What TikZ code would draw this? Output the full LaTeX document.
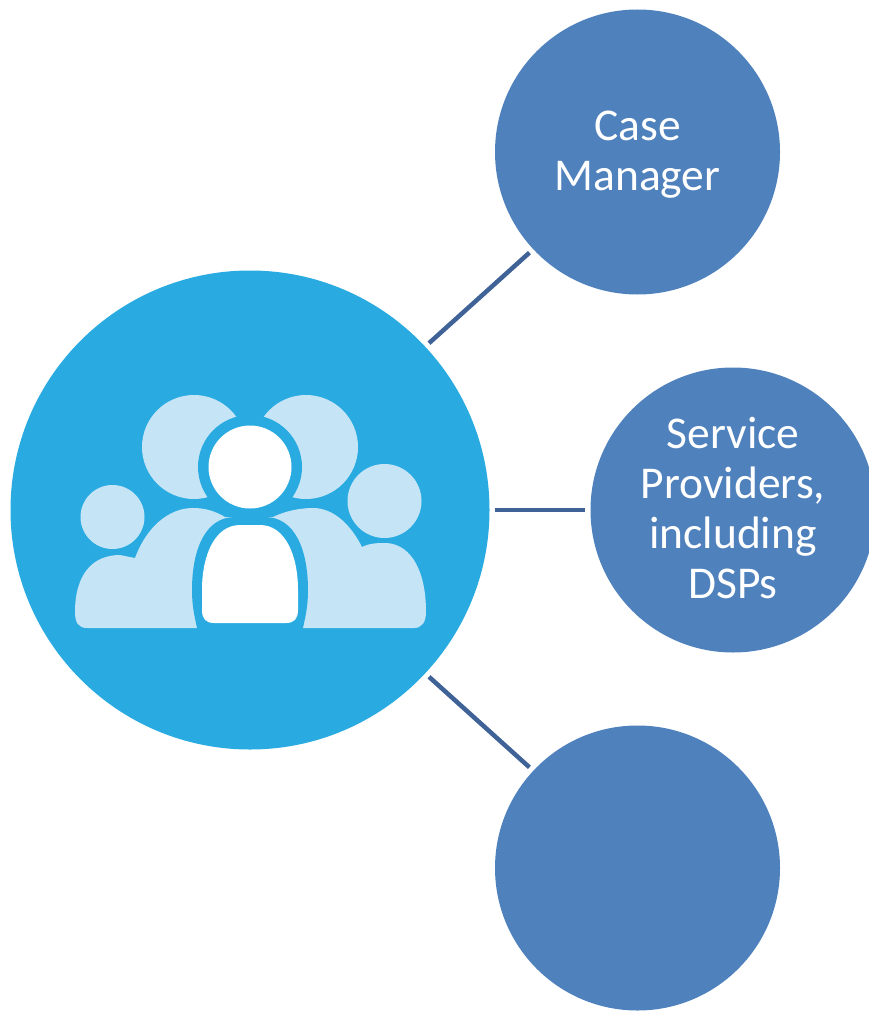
\documentclass[tikz,border=0pt]{standalone}
\usepackage{fontspec}
\setmainfont{Carlito}
\definecolor{blueA}{HTML}{4F81BD}
\definecolor{cyanA}{HTML}{29ABE2}
\definecolor{lineA}{HTML}{3F6297}
\definecolor{paleA}{HTML}{C5E4F5}
\tikzset{
  sat/.style={circle,fill=blueA,draw=none,minimum size=285pt,inner sep=0pt},
  sattext/.style={text=white,align=center,inner sep=0pt,font=\fontsize{45.5}{50}\selectfont},
  link/.style={draw=lineA,line width=4.5pt,shorten >=5pt,shorten <=5pt},
  pale/.style={fill=paleA,draw=none},
  gapfill/.style={fill=cyanA,draw=none},
  front/.style={fill=white,draw=none}
}
\begin{document}
\begin{tikzpicture}[x=1pt,y=-1pt]
\useasboundingbox (0,0) rectangle (869,1011);
\node[circle,fill=cyanA,minimum size=479pt,inner sep=0pt] (hub) at (250,510) {};
\node[sat,label={[sattext,yshift=-3pt]center:Case\\Manager}] (cm) at (637.5,152) {};
\node[sat,label={[sattext,yshift=2pt]center:Service\\Providers,\\including\\DSPs}] (sp) at (733,510) {};
\node[sat] (em) at (637.5,868) {};
\draw[link] (hub.43) -- (cm.223);
\draw[link] (hub.east) -- (sp.west);
\draw[link] (hub.-43) -- (em.137);
% back heads
\fill[pale] (194,447) circle (52);
\fill[pale] (306,447) circle (52);
\fill[pale] (112.5,517) circle (32);
\fill[pale] (384.5,501) circle (37);
% bodies
\fill[pale] (87,628) .. controls (78,628) and (75,622) .. (75,612) .. controls (75,575) and (92,555) .. (120,555) -- (135,558) .. controls (146,528) and (168,508) .. (193,508) .. controls (205,508) and (215,511) .. (225,517) -- (273,517) .. controls (285,511) and (300,508) .. (313,508) .. controls (335,508) and (352,527) .. (362,547) .. controls (370,543) and (378,543) .. (387,543) .. controls (412,545) and (426,572) .. (426,612) .. controls (426,622) and (422,628) .. (414,628) -- cycle;
% front person
\fill[gapfill] (250,467) circle (52);
\fill[front] (250,467) circle (41.5);
\fill[gapfill] (198,632) .. controls (194,615) and (192,605) .. (192,590) .. controls (192,550) and (205,517) .. (235,517) -- (265,517) .. controls (295,517) and (308,550) .. (308,590) .. controls (308,605) and (306,615) .. (302,632) -- cycle;
\fill[front] (202,610) -- (202,590) .. controls (202,555) and (215,525) .. (240,525) -- (260,525) .. controls (285,525) and (298,555) .. (298,590) -- (298,610) .. controls (298,619) and (294,623) .. (286,623) -- (214,623) .. controls (206,623) and (202,619) .. (202,610) -- cycle;
\end{tikzpicture}
\end{document}
